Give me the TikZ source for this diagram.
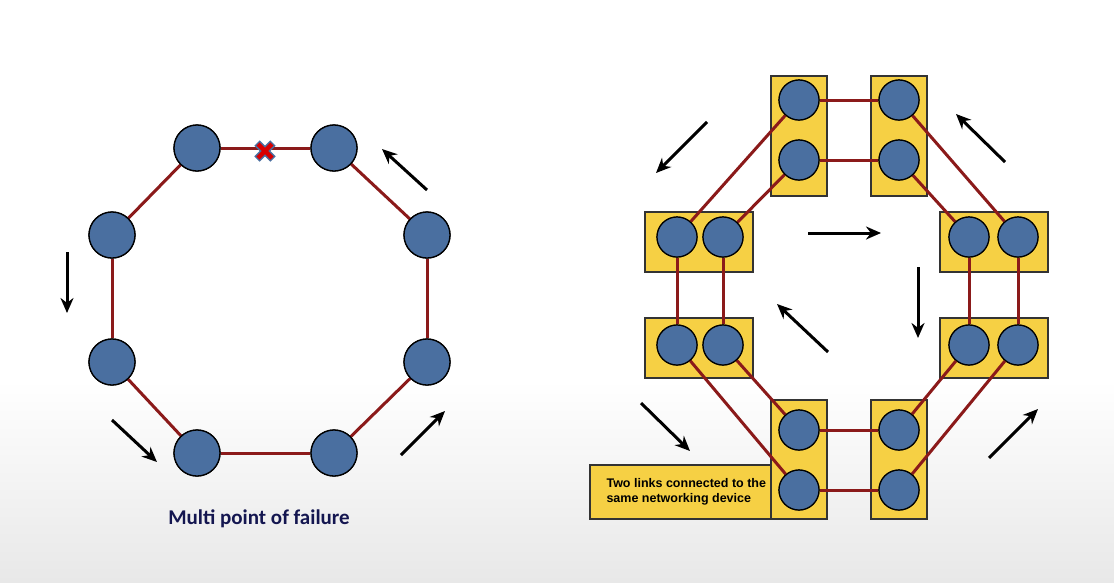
\documentclass[tikz,border=0pt]{standalone}
\usepackage{fontspec}
\setmainfont{Carlito}
\newfontfamily\arialb{Liberation Sans}
\usetikzlibrary{arrows.meta}
\definecolor{nodeblue}{RGB}{74,111,160}
\definecolor{linkred}{RGB}{139,26,26}
\definecolor{boxyellow}{RGB}{246,208,68}
\definecolor{captionblue}{RGB}{20,22,80}
\definecolor{bgbottom}{RGB}{232,232,232}
\tikzset{
  dev/.style={circle,draw=black,line width=1.3pt,fill=nodeblue,minimum size=46pt,inner sep=0pt},
  sdev/.style={circle,draw=black,line width=1.2pt,fill=nodeblue,minimum size=40pt,inner sep=0pt},
  link/.style={draw=linkred,line width=3pt},
  flow/.style={draw=black,line width=3pt,-{Stealth[length=15pt,width=13pt]}},
  ybox/.style={draw=black!80,line width=1.1pt,fill=boxyellow,inner sep=0pt}
}
\begin{document}
\begin{tikzpicture}[x=1pt,y=-1pt]
\useasboundingbox (0,0) rectangle (1114,582);
\fill[white] (0,0) rectangle (1114,380);
\shade[top color=white,bottom color=bgbottom] (0,380) rectangle (1114,582);

% ---------- left ring ----------
\node[dev] (t1) at (197,148) {};
\node[dev] (t2) at (334,148) {};
\node[dev] (r1) at (427,235) {};
\node[dev] (r2) at (427,362) {};
\node[dev] (b2) at (334,453) {};
\node[dev] (b1) at (197,453) {};
\node[dev] (l2) at (112,362) {};
\node[dev] (l1) at (112,235) {};
\draw[link] (t1) -- (t2);
\draw[link] (t2) -- (r1);
\draw[link] (r1) -- (r2);
\draw[link] (r2) -- (b2);
\draw[link] (b2) -- (b1);
\draw[link] (b1) -- (l2);
\draw[link] (l2) -- (l1);
\draw[link] (l1) -- (t1);
\foreach \p in {(197,148),(334,148),(427,235),(427,362),(334,453),(197,453),(112,362),(112,235)}
  \node[dev] at \p {};
% failure mark
\coordinate (xm) at (265,151);
\draw[nodeblue,line width=7.5pt] ([shift={(-8,-8)}]xm) -- ([shift={(8,8)}]xm) ([shift={(-8,8)}]xm) -- ([shift={(8,-8)}]xm);
\draw[red!85!black,line width=4.5pt] ([shift={(-7,-7)}]xm) -- ([shift={(7,7)}]xm) ([shift={(-7,7)}]xm) -- ([shift={(7,-7)}]xm);

% arrows left
\coordinate (la1s) at (427,190); \coordinate (la1e) at (382,149);
\coordinate (la2s) at (67,252);  \coordinate (la2e) at (67,313);
\coordinate (la3s) at (112,420); \coordinate (la3e) at (157,462);
\coordinate (la4s) at (401,455); \coordinate (la4e) at (445,411);
\draw[flow] (la1s) -- (la1e);
\draw[flow] (la2s) -- (la2e);
\draw[flow] (la3s) -- (la3e);
\draw[flow] (la4s) -- (la4e);

\node[text=captionblue,font={\fontsize{21}{24}\selectfont\bfseries}] (cap) at (259,519) {Multi point of failure};

% ---------- right redundant ring ----------
\node[ybox,minimum width=56pt,minimum height=120pt] (TL) at (799,136) {};
\node[ybox,minimum width=56pt,minimum height=120pt] (TR) at (899,136) {};
\node[ybox,minimum width=108pt,minimum height=60pt] (LU) at (699,242) {};
\node[ybox,minimum width=108pt,minimum height=60pt] (LL) at (699,348) {};
\node[ybox,minimum width=108pt,minimum height=60pt] (RU) at (994,242) {};
\node[ybox,minimum width=108pt,minimum height=60pt] (RL) at (994,348) {};
\node[ybox,minimum width=56pt,minimum height=119pt] (BL) at (799,459.5) {};
\node[ybox,minimum width=56pt,minimum height=119pt] (BR) at (899,459.5) {};
\node[ybox,minimum width=181pt,minimum height=54pt] (lab) at (680.5,492) {};

\node[sdev] (a1) at (799,100) {};
\node[sdev] (a2) at (799,160) {};
\node[sdev] (c1) at (899,100) {};
\node[sdev] (c2) at (899,160) {};
\node[sdev] (d1) at (677,237) {};
\node[sdev] (d2) at (723,237) {};
\node[sdev] (e1) at (677,345) {};
\node[sdev] (e2) at (723,345) {};
\node[sdev] (f1) at (969,237) {};
\node[sdev] (f2) at (1018,237) {};
\node[sdev] (g1) at (969,345) {};
\node[sdev] (g2) at (1018,345) {};
\node[sdev] (h1) at (799,430) {};
\node[sdev] (h2) at (799,490) {};
\node[sdev] (k1) at (899,430) {};
\node[sdev] (k2) at (899,490) {};

\draw[link] (a1) -- (c1);
\draw[link] (a2) -- (c2);
\draw[link] (a1) -- (d1);
\draw[link] (a2) -- (d2);
\draw[link] (d1) -- (e1);
\draw[link] (d2) -- (e2);
\draw[link] (e1) -- (h2);
\draw[link] (e2) -- (h1);
\draw[link] (h1) -- (k1);
\draw[link] (h2) -- (k2);
\draw[link] (c1) -- (f2);
\draw[link] (c2) -- (f1);
\draw[link] (f1) -- (g1);
\draw[link] (f2) -- (g2);
\draw[link] (g1) -- (k1);
\draw[link] (g2) -- (k2);

\foreach \p in {(799,100),(799,160),(899,100),(899,160),(677,237),(723,237),(677,345),(723,345),(969,237),(1018,237),(969,345),(1018,345),(799,430),(799,490),(899,430),(899,490)}
  \node[sdev] at \p {};

\node[font={\arialb\bfseries\fontsize{12.5}{15}\selectfont},align=left,anchor=west] (labtxt) at (603,492) {Two links connected to the\\same networking device};

% arrows right
\coordinate (ra1s) at (707,122); \coordinate (ra1e) at (656,173);
\coordinate (ra2s) at (1005,162); \coordinate (ra2e) at (956,114);
\coordinate (ra3s) at (808,233); \coordinate (ra3e) at (881,233);
\coordinate (ra4s) at (918,267); \coordinate (ra4e) at (918,338);
\coordinate (ra5s) at (828,352); \coordinate (ra5e) at (777,304);
\coordinate (ra6s) at (641,403); \coordinate (ra6e) at (690,451);
\coordinate (ra7s) at (989,458); \coordinate (ra7e) at (1038,409);
\draw[flow] (ra1s) -- (ra1e);
\draw[flow] (ra2s) -- (ra2e);
\draw[flow] (ra3s) -- (ra3e);
\draw[flow] (ra4s) -- (ra4e);
\draw[flow] (ra5s) -- (ra5e);
\draw[flow] (ra6s) -- (ra6e);
\draw[flow] (ra7s) -- (ra7e);
\end{tikzpicture}
\end{document}
